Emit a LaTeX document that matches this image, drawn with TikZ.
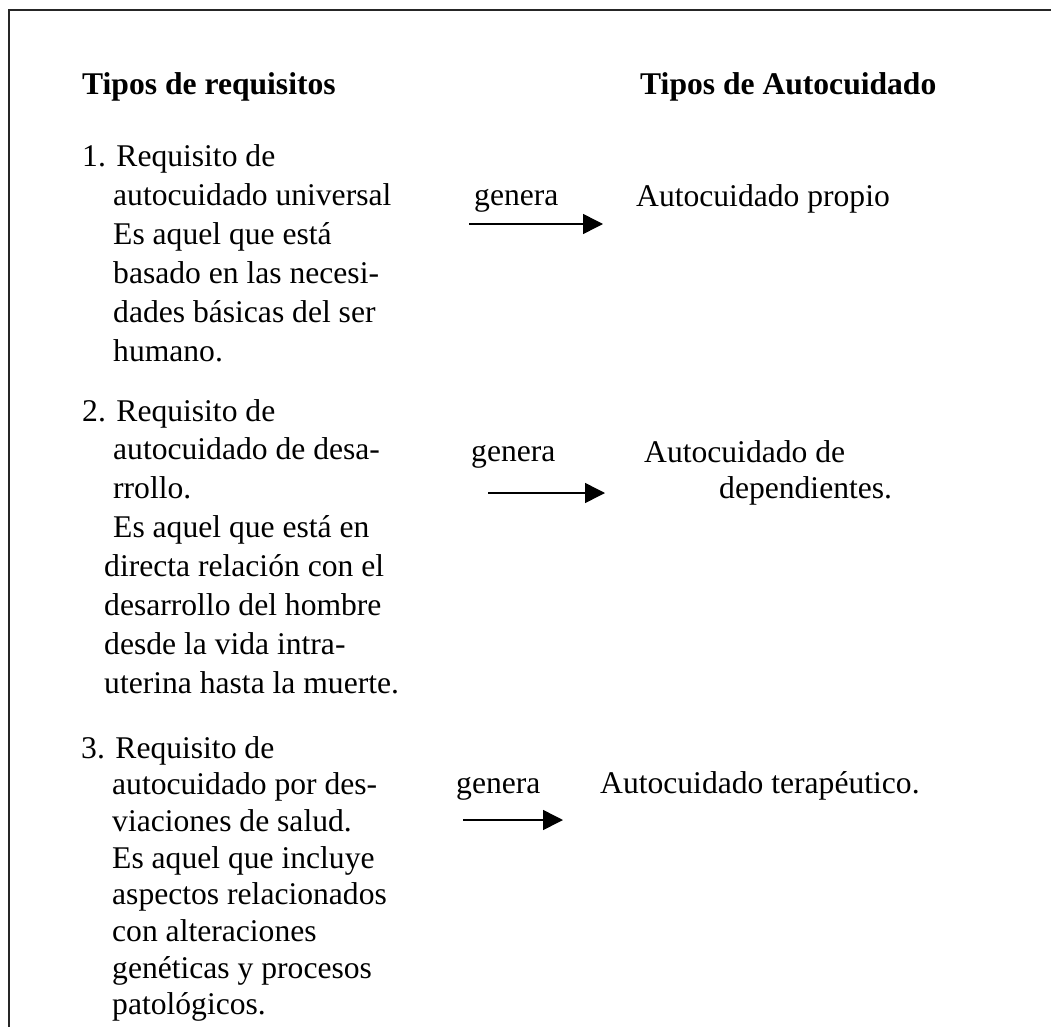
\documentclass[tikz,border=0pt]{standalone}
\usepackage{fontspec}
\setmainfont{Liberation Serif}
\usetikzlibrary{arrows.meta}
\newcommand{\bodyfont}{\fontsize{31.6}{38.8}\selectfont}
\tikzset{
  ln/.style={anchor=base west, inner sep=0pt, font=\bodyfont},
  hd/.style={anchor=base west, inner sep=0pt, font=\bodyfont\bfseries},
  frameline/.style={line width=2pt, black!85},
  gen/.style={line width=1.5pt, -{Triangle[length=20pt,width=20pt]}}
}
\begin{document}
\begin{tikzpicture}[x=1pt,y=-1pt]
\useasboundingbox (0,0) rectangle (1051,1027);
\fill[white] (0,0) rectangle (1051,1027);

% open frame: top and left edges
\draw[frameline] (1051,10) -- (9,10) -- (9,1027);

% column headings
\node[hd] (h1) at (82,95) {Tipos de requisitos};
\node[hd] (h2) at (640,95) {Tipos de Autocuidado};

% requirement 1
\node[ln] (r1a) at (82,166.5) {1. Requisito de};
\node[ln] (r1b) at (113,205.5) {autocuidado universal};
\node[ln] (r1c) at (113,244.5) {Es aquel que está};
\node[ln] (r1d) at (113,283.5) {basado en las necesi-};
\node[ln] (r1e) at (113,322.5) {dades básicas del ser};
\node[ln] (r1f) at (113,361.5) {humano.};

% requirement 2
\node[ln] (r2a) at (82,421) {2. Requisito de};
\node[ln] (r2b) at (113,459.9) {autocuidado de desa-};
\node[ln] (r2c) at (113,498.8) {rrollo.};
\node[ln] (r2d) at (113,537.7) {Es aquel que está en};
\node[ln] (r2e) at (104,576.6) {directa relación con el};
\node[ln] (r2f) at (104,615.5) {desarrollo del hombre};
\node[ln] (r2g) at (104,654.4) {desde la vida intra-};
\node[ln] (r2h) at (104,693.3) {uterina hasta la muerte.};

% requirement 3
\node[ln] (r3a) at (81,758) {3. Requisito de};
\node[ln] (r3b) at (112,794.7) {autocuidado por des-};
\node[ln] (r3c) at (112,831.4) {viaciones de salud.};
\node[ln] (r3d) at (112,868.1) {Es aquel que incluye};
\node[ln] (r3e) at (112,904.8) {aspectos relacionados};
\node[ln] (r3f) at (112,941.5) {con alteraciones};
\node[ln] (r3g) at (112,978.2) {genéticas y procesos};
\node[ln] (r3h) at (112,1014.9) {patológicos.};

% self-care types
\node[ln] (t1) at (636,206) {Autocuidado propio};
\node[ln] (t2a) at (644,462) {Autocuidado de};
\node[ln] (t2b) at (719,498) {dependientes.};
\node[ln] (t3) at (600,793) {Autocuidado terapéutico.};

% "genera" arrows
\node[ln] (g1) at (474,205) {genera};
\coordinate (g1s) at (469,224);
\coordinate (g1e) at (603,224);
\draw[gen] (g1s) -- (g1e);

\node[ln] (g2) at (471,461) {genera};
\coordinate (g2s) at (488,493);
\coordinate (g2e) at (605,493);
\draw[gen] (g2s) -- (g2e);

\node[ln] (g3) at (456,793) {genera};
\coordinate (g3s) at (463,820);
\coordinate (g3e) at (563,820);
\draw[gen] (g3s) -- (g3e);
\end{tikzpicture}
\end{document}
